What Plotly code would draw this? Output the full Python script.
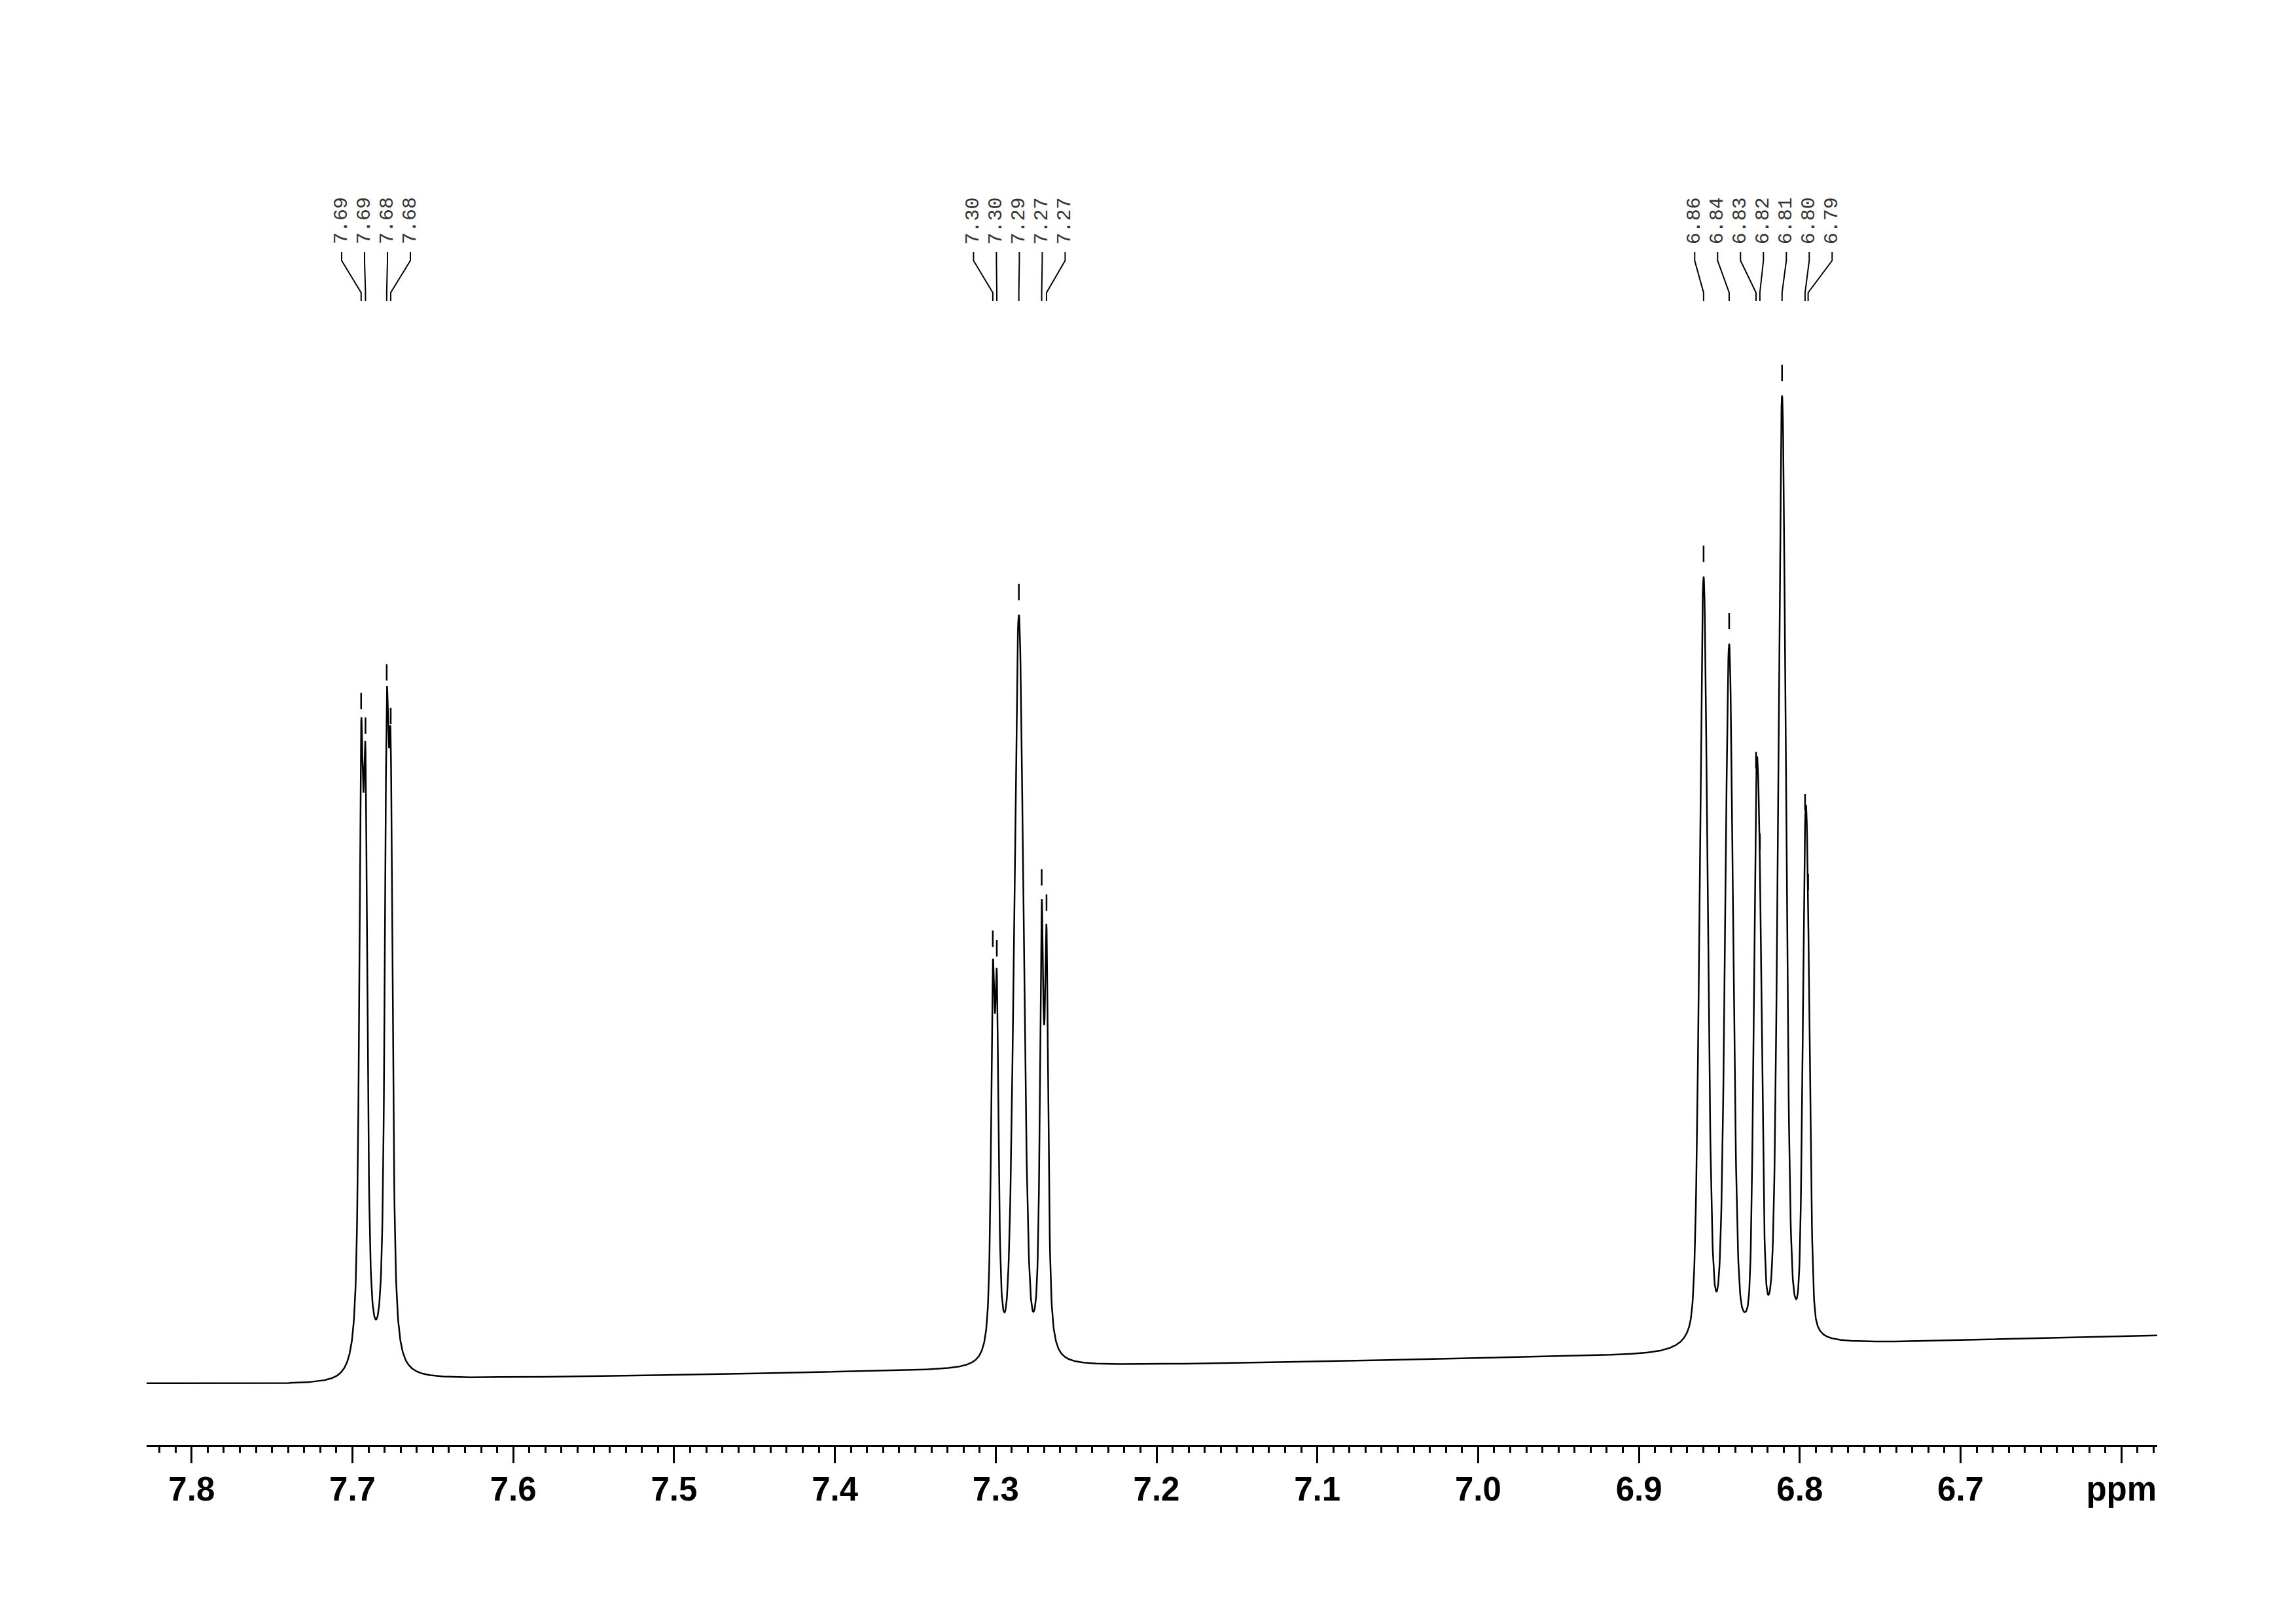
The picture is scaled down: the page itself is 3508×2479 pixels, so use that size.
import numpy as np
import plotly.graph_objects as go

# ---------------- data ----------------
# picked peaks (ppm), their labels, observed heights above the baseline (intensity units)
peak_ppm = [7.6946, 7.6919, 7.6787, 7.6762,
            7.3018, 7.2993, 7.2856, 7.2714, 7.2684,
            6.8598, 6.8439, 6.8272, 6.8248, 6.8110, 6.7967, 6.7948]
peak_labels = ["7.69", "7.69", "7.68", "7.68",
               "7.30", "7.30", "7.29", "7.27", "7.27",
               "6.86", "6.84", "6.83", "6.82", "6.81", "6.80", "6.79"]
peak_height = [1007, 969, 1048, 981,
               623, 608, 1151, 714, 675,
               1185, 1080, 865, 740, 1454, 796, 674]
# line half widths (ppm) and Lorentzian fraction of each line
peak_hwhm = [0.00148, 0.00148, 0.00148, 0.00148,
             0.0013, 0.0013, 0.0034, 0.0013, 0.0013,
             0.0029, 0.0029, 0.0019, 0.0019, 0.0028, 0.0019, 0.0019]
peak_lfrac = [0.8, 0.8, 0.8, 0.8,
              0.8, 0.8, 0.25, 0.8, 0.8,
              0.3, 0.3, 0.3, 0.3, 0.3, 0.3, 0.3]
peak_group = [0, 0, 0, 0, 1, 1, 1, 1, 1, 2, 2, 2, 2, 2, 2, 2]

# baseline level
baseline_ppm = [7.828, 7.71, 7.665, 7.32, 7.255, 6.89, 6.777, 6.578]
baseline_level = [94, 92, 100, 114, 120, 137, 154, 167]

# axis
x_range = [7.828, 6.5777]
tick_vals = [7.8, 7.7, 7.6, 7.5, 7.4, 7.3, 7.2, 7.1, 7.0, 6.9, 6.8, 6.7, 6.6]
tick_text = ["7.8", "7.7", "7.6", "7.5", "7.4", "7.3", "7.2", "7.1", "7.0", "6.9", "6.8", "6.7", "ppm"]

# ---------------- build spectrum from the peak list ----------------
W, H = 3508, 2479
ML, MR, MT, MB = 216, 220, 92, 280
plot_w = W - ML - MR
plot_h = H - MT - MB
px_per_ppm = plot_w / (x_range[0] - x_range[1])


def line_shape(x, c, w, eta):
    u = ((x - c) / w) ** 2
    return eta / (1.0 + u) + (1.0 - eta) * np.exp(-np.log(2.0) * u)


c = np.array(peak_ppm)
w = np.array(peak_hwhm)
eta = np.array(peak_lfrac)
h = np.array(peak_height, dtype=float)

M = np.array([[line_shape(c[i], c[j], w[j], eta[j]) for j in range(len(c))] for i in range(len(c))])
amps = np.linalg.solve(M, h)

x = np.linspace(x_range[0], x_range[1], 7000)
bp = np.array(baseline_ppm)[::-1]
bl = np.array(baseline_level, dtype=float)[::-1]
base = np.interp(x, bp, bl)
y = base.copy()
for j in range(len(c)):
    y += amps[j] * line_shape(x, c[j], w[j], eta[j])

peak_top = np.interp(c, bp, bl) + h

fig = go.Figure()
fig.add_trace(go.Scatter(x=x, y=y, mode="lines",
                         line=dict(color="black", width=2.5),
                         hoverinfo="skip", showlegend=False))

shapes = []
annotations = []

# peak pick dashes above each peak
for i in range(len(c)):
    shapes.append(dict(type="line", xref="x", yref="y",
                       x0=c[i], x1=c[i], y0=peak_top[i] + 22, y1=peak_top[i] + 47,
                       line=dict(color="black", width=2.5)))

# labels and connectors
sp = 35 / px_per_ppm
for g in sorted(set(peak_group)):
    idx = [i for i in range(len(c)) if peak_group[i] == g]
    idx.sort(key=lambda i: -c[i])
    n = len(idx)
    mean = float(np.mean(c[idx]))
    for k, i in enumerate(idx):
        lx = mean + ((n - 1) / 2.0 - k) * sp
        annotations.append(dict(x=lx, y=1832, xref="x", yref="y",
                                text=peak_labels[i], showarrow=False,
                                textangle=-90, xanchor="center", yanchor="bottom",
                                font=dict(family="Liberation Mono", size=30, color="#333333")))
        shapes.append(dict(type="path", xref="x", yref="y",
                           path=f"M {lx},1822 L {lx},1809 L {c[i]},1760 L {c[i]},1747",
                           line=dict(color="black", width=2)))

fig.update_layout(
    width=W, height=H,
    margin=dict(l=ML, r=MR, t=MT, b=MB),
    paper_bgcolor="white", plot_bgcolor="white",
    showlegend=False,
    shapes=shapes, annotations=annotations,
    xaxis=dict(range=x_range, showline=True, linewidth=3, linecolor="black",
               showgrid=False, zeroline=False,
               ticks="outside", ticklen=25, tickwidth=3, tickcolor="black",
               tickmode="array", tickvals=tick_vals, ticktext=tick_text,
               ticklabelstandoff=-4,
               tickfont=dict(family="Liberation Sans", size=51, color="black", weight="bold"),
               minor=dict(tickmode="linear", tick0=6.6, dtick=0.01, ticks="outside",
                          ticklen=9, tickwidth=3, tickcolor="black")),
    yaxis=dict(visible=False, range=[0, plot_h], fixedrange=True),
)

fig.write_html("out.html")
